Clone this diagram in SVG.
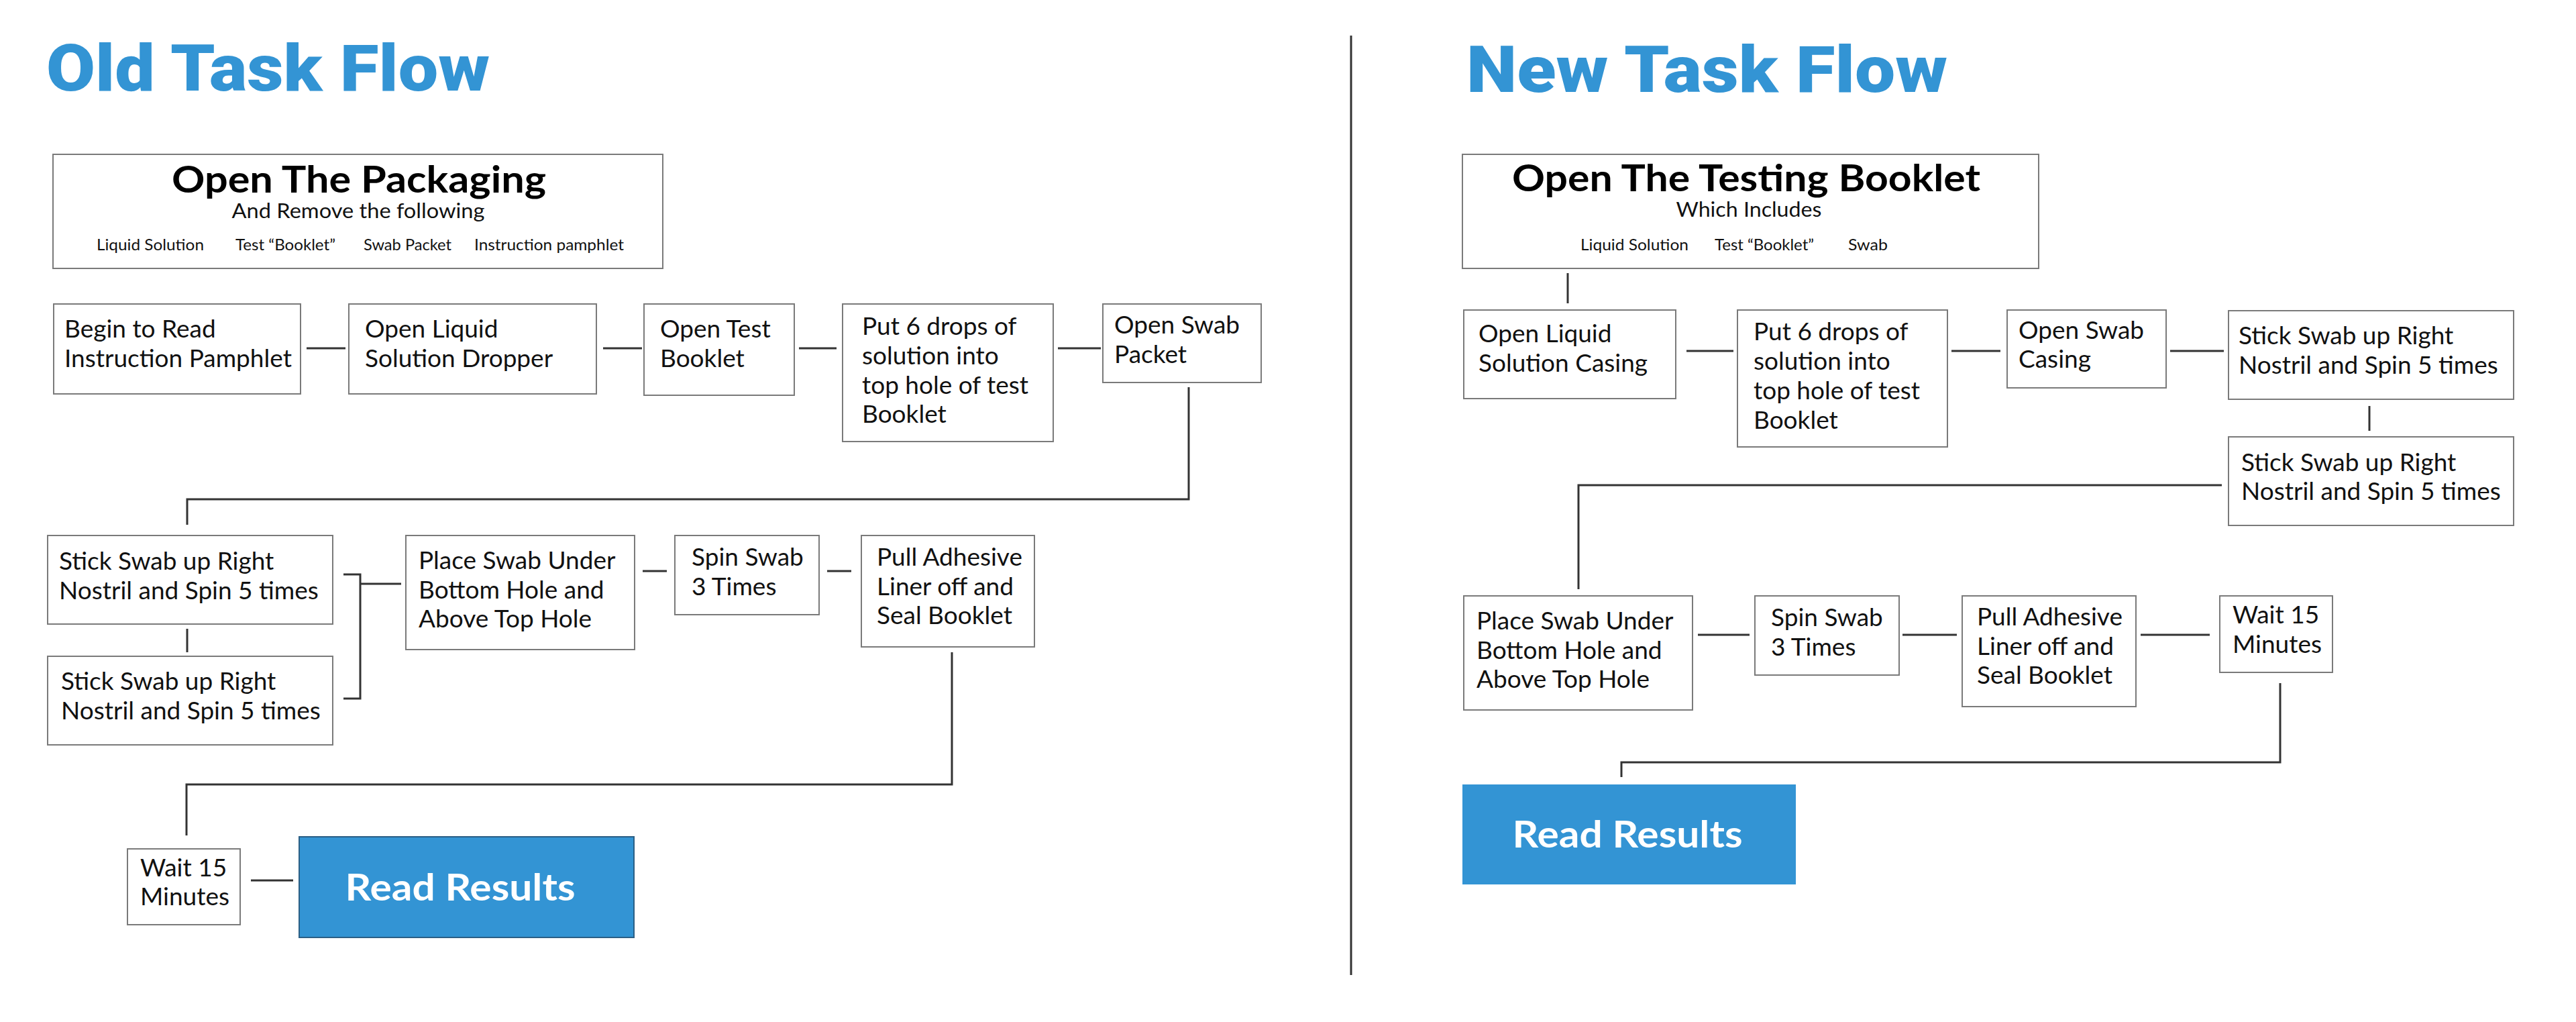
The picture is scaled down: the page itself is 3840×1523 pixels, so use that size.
<svg xmlns="http://www.w3.org/2000/svg" width="3840" height="1523" viewBox="0 0 3840 1523">
<style>
.bg{fill:#ffffff}
.title{font-family:Roboto,"Liberation Sans",sans-serif;font-weight:900;font-size:97px;fill:#3394d4}
.box{fill:#ffffff;stroke:#7a7a7a;stroke-width:2}
.t{font-family:Lato,"Noto Sans",sans-serif;font-size:37px;fill:#111111}
.h{font-family:Lato,"Noto Sans",sans-serif;font-weight:700;font-size:56px;fill:#000000;text-anchor:middle}
.sub{font-family:Lato,"Noto Sans",sans-serif;font-size:31px;fill:#111111;text-anchor:middle}
.item{font-family:Lato,"Noto Sans",sans-serif;font-size:24px;fill:#111111}
.res{fill:#3394d4}
.rt{font-family:Lato,"Noto Sans",sans-serif;font-weight:700;font-size:56px;fill:#ffffff;text-anchor:middle}
.c{fill:none;stroke:#333333;stroke-width:3}
.div{stroke:#333333;stroke-width:3}
</style>
<rect class="bg" x="0" y="0" width="3840" height="1523"/>

<text class="title" x="69" y="135" textLength="661" lengthAdjust="spacingAndGlyphs">Old Task Flow</text>
<text class="title" x="2186" y="137" textLength="717" lengthAdjust="spacingAndGlyphs">New Task Flow</text>

<line class="div" x1="2014" y1="53" x2="2014" y2="1453"/>

<g id="connectors">
  <line class="c" x1="457" y1="519" x2="515" y2="519"/>
  <line class="c" x1="899" y1="519" x2="957" y2="519"/>
  <line class="c" x1="1191" y1="519" x2="1247" y2="519"/>
  <line class="c" x1="1577" y1="519" x2="1641" y2="519"/>
  <path class="c" d="M1772,577 V744 H279 V782"/>
  <line class="c" x1="279" y1="937" x2="279" y2="972"/>
  <path class="c" d="M512,856 H537 V1041 H512"/>
  <line class="c" x1="537" y1="870" x2="598" y2="870"/>
  <line class="c" x1="958" y1="851" x2="994" y2="851"/>
  <line class="c" x1="1233" y1="851" x2="1269" y2="851"/>
  <path class="c" d="M1419,972 V1169 H278 V1245"/>
  <line class="c" x1="374" y1="1312" x2="437" y2="1312"/>

  <line class="c" x1="2337" y1="407" x2="2337" y2="452"/>
  <line class="c" x1="2514" y1="523" x2="2584" y2="523"/>
  <line class="c" x1="2909" y1="523" x2="2982" y2="523"/>
  <line class="c" x1="3235" y1="523" x2="3315" y2="523"/>
  <line class="c" x1="3532" y1="605" x2="3532" y2="642"/>
  <path class="c" d="M3312,723 H2353 V878"/>
  <line class="c" x1="2531" y1="946" x2="2608" y2="946"/>
  <line class="c" x1="2836" y1="946" x2="2917" y2="946"/>
  <line class="c" x1="3191" y1="946" x2="3294" y2="946"/>
  <path class="c" d="M3399,1018 V1136 H2417 V1158"/>
</g>

<!-- OLD FLOW -->
<g id="old-header">
  <rect class="box" x="79" y="230" width="909" height="170"/>
  <text class="h" x="535" y="287" textLength="558" lengthAdjust="spacingAndGlyphs">Open The Packaging</text>
  <text class="sub" x="534" y="325" textLength="377" lengthAdjust="spacingAndGlyphs">And Remove the following</text>
  <text class="item" x="144" y="373" textLength="160" lengthAdjust="spacingAndGlyphs">Liquid Solution</text>
  <text class="item" x="351" y="373" textLength="149" lengthAdjust="spacingAndGlyphs">Test “Booklet”</text>
  <text class="item" x="542" y="373" textLength="131" lengthAdjust="spacingAndGlyphs">Swab Packet</text>
  <text class="item" x="707" y="373" textLength="223" lengthAdjust="spacingAndGlyphs">Instruction pamphlet</text>
</g>
<g id="old-begin-read">
  <rect class="box" x="80" y="453" width="368" height="134"/>
  <text class="t" x="96" y="503">Begin to Read</text>
  <text class="t" x="96" y="547">Instruction Pamphlet</text>
</g>
<g id="old-open-liquid">
  <rect class="box" x="520" y="453" width="369" height="134"/>
  <text class="t" x="544" y="503">Open Liquid</text>
  <text class="t" x="544" y="547">Solution Dropper</text>
</g>
<g id="old-open-test">
  <rect class="box" x="960" y="453" width="224" height="136"/>
  <text class="t" x="984" y="503">Open Test</text>
  <text class="t" x="984" y="547">Booklet</text>
</g>
<g id="old-put-drops">
  <rect class="box" x="1256" y="453" width="314" height="205"/>
  <text class="t" x="1285" y="499">Put 6 drops of</text>
  <text class="t" x="1285" y="543">solution into</text>
  <text class="t" x="1285" y="587">top hole of test</text>
  <text class="t" x="1285" y="630">Booklet</text>
</g>
<g id="old-open-swab">
  <rect class="box" x="1644" y="453" width="236" height="117"/>
  <text class="t" x="1661" y="497">Open Swab</text>
  <text class="t" x="1661" y="541">Packet</text>
</g>
<g id="old-stick-1">
  <rect class="box" x="71" y="798" width="425" height="132"/>
  <text class="t" x="88" y="849">Stick Swab up Right</text>
  <text class="t" x="88" y="893">Nostril and Spin 5 times</text>
</g>
<g id="old-stick-2">
  <rect class="box" x="71" y="978" width="425" height="132"/>
  <text class="t" x="91" y="1028">Stick Swab up Right</text>
  <text class="t" x="91" y="1072">Nostril and Spin 5 times</text>
</g>
<g id="old-place-swab">
  <rect class="box" x="605" y="798" width="341" height="170"/>
  <text class="t" x="624" y="848">Place Swab Under</text>
  <text class="t" x="624" y="892">Bottom Hole and</text>
  <text class="t" x="624" y="935">Above Top Hole</text>
</g>
<g id="old-spin-swab">
  <rect class="box" x="1006" y="798" width="215" height="118"/>
  <text class="t" x="1031" y="843">Spin Swab</text>
  <text class="t" x="1031" y="887">3 Times</text>
</g>
<g id="old-pull-liner">
  <rect class="box" x="1284" y="798" width="258" height="166"/>
  <text class="t" x="1307" y="843">Pull Adhesive</text>
  <text class="t" x="1307" y="887">Liner off and</text>
  <text class="t" x="1307" y="930">Seal Booklet</text>
</g>
<g id="old-wait">
  <rect class="box" x="190" y="1265" width="168" height="113"/>
  <text class="t" x="209" y="1306">Wait 15</text>
  <text class="t" x="209" y="1349">Minutes</text>
</g>
<g id="old-read-results">
  <rect class="res" x="446" y="1247" width="499" height="150" stroke="#2b5f85" stroke-width="2"/>
  <text class="rt" x="686" y="1342" textLength="343" lengthAdjust="spacingAndGlyphs">Read Results</text>
</g>

<!-- NEW FLOW -->
<g id="new-header">
  <rect class="box" x="2180" y="230" width="859" height="170"/>
  <text class="h" x="2603" y="285" textLength="698" lengthAdjust="spacingAndGlyphs">Open The Testing Booklet</text>
  <text class="sub" x="2607" y="323" textLength="217" lengthAdjust="spacingAndGlyphs">Which Includes</text>
  <text class="item" x="2356" y="373" textLength="161" lengthAdjust="spacingAndGlyphs">Liquid Solution</text>
  <text class="item" x="2556" y="373" textLength="148" lengthAdjust="spacingAndGlyphs">Test “Booklet”</text>
  <text class="item" x="2755" y="373" textLength="59" lengthAdjust="spacingAndGlyphs">Swab</text>
</g>
<g id="new-open-liquid">
  <rect class="box" x="2182" y="462" width="316" height="132"/>
  <text class="t" x="2204" y="510">Open Liquid</text>
  <text class="t" x="2204" y="554">Solution Casing</text>
</g>
<g id="new-put-drops">
  <rect class="box" x="2590" y="462" width="313" height="204"/>
  <text class="t" x="2614" y="507">Put 6 drops of</text>
  <text class="t" x="2614" y="551">solution into</text>
  <text class="t" x="2614" y="595">top hole of test</text>
  <text class="t" x="2614" y="639">Booklet</text>
</g>
<g id="new-open-swab">
  <rect class="box" x="2992" y="462" width="237" height="116"/>
  <text class="t" x="3009" y="505">Open Swab</text>
  <text class="t" x="3009" y="548">Casing</text>
</g>
<g id="new-stick-1">
  <rect class="box" x="3322" y="463" width="425" height="132"/>
  <text class="t" x="3337" y="513">Stick Swab up Right</text>
  <text class="t" x="3337" y="557">Nostril and Spin 5 times</text>
</g>
<g id="new-stick-2">
  <rect class="box" x="3322" y="651" width="425" height="132"/>
  <text class="t" x="3341" y="702">Stick Swab up Right</text>
  <text class="t" x="3341" y="745">Nostril and Spin 5 times</text>
</g>
<g id="new-place-swab">
  <rect class="box" x="2182" y="888" width="341" height="170"/>
  <text class="t" x="2201" y="938">Place Swab Under</text>
  <text class="t" x="2201" y="982">Bottom Hole and</text>
  <text class="t" x="2201" y="1025">Above Top Hole</text>
</g>
<g id="new-spin-swab">
  <rect class="box" x="2616" y="888" width="215" height="118"/>
  <text class="t" x="2640" y="933">Spin Swab</text>
  <text class="t" x="2640" y="977">3 Times</text>
</g>
<g id="new-pull-liner">
  <rect class="box" x="2925" y="888" width="259" height="165"/>
  <text class="t" x="2947" y="932">Pull Adhesive</text>
  <text class="t" x="2947" y="976">Liner off and</text>
  <text class="t" x="2947" y="1019">Seal Booklet</text>
</g>
<g id="new-wait">
  <rect class="box" x="3309" y="888" width="168" height="114"/>
  <text class="t" x="3328" y="929">Wait 15</text>
  <text class="t" x="3328" y="973">Minutes</text>
</g>
<g id="new-read-results">
  <rect class="res" x="2180" y="1169" width="497" height="149"/>
  <text class="rt" x="2426" y="1263" textLength="343" lengthAdjust="spacingAndGlyphs">Read Results</text>
</g>
</svg>
